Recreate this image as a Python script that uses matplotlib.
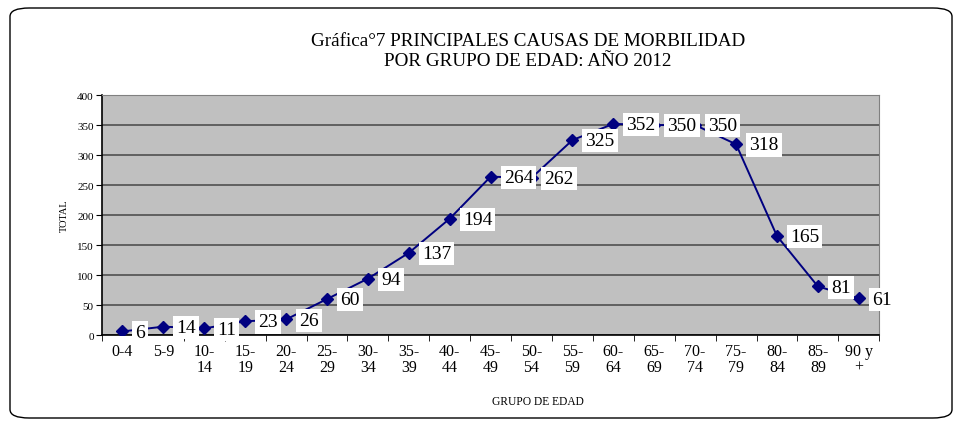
import matplotlib.pyplot as plt
from matplotlib.patches import FancyBboxPatch

# data
grupos = ['0-4', '5-9', '10-\n14', '15-\n19', '20-\n24', '25-\n29', '30-\n34', '35-\n39',
          '40-\n44', '45-\n49', '50-\n54', '55-\n59', '60-\n64', '65-\n69', '70-\n74',
          '75-\n79', '80-\n84', '85-\n89', '90 y\n+']
totales = [6, 14, 11, 23, 26, 60, 94, 137, 194, 264, 262, 325, 352, 350, 350, 318, 165, 81, 61]

plt.rcParams['font.family'] = ['Liberation Serif', 'DejaVu Serif']

fig = plt.figure(figsize=(9.62, 4.27), dpi=100)
ax = fig.add_axes([0.106, 0.213, 0.808, 0.562])

# rounded outer frame
frame = FancyBboxPatch((10 / 962, 8 / 427), 942 / 962, 410 / 427,
                       boxstyle='round,pad=0,rounding_size=0.02',
                       transform=fig.transFigure, fill=False, edgecolor='black', linewidth=1.0)
fig.patches.append(frame)

x = list(range(len(grupos)))
ax.set_facecolor('#C0C0C0')
ax.plot(x, totales, color='#000080', linewidth=1.4, marker='D', markersize=6, zorder=3)

for xi, v in zip(x, totales):
    ax.annotate(str(v), (xi, v), xytext=(9.4, -0.5), textcoords='offset points',
                ha='left', va='center', fontsize=14, zorder=4,
                bbox=dict(boxstyle='square,pad=0.16', facecolor='white', edgecolor='none'))

ax.set_xlim(-0.5, len(grupos) - 0.5)
ax.set_ylim(0, 400)
ax.set_yticks(range(0, 401, 50))
ax.yaxis.grid(True, color='#585858', linewidth=1.3)
ax.set_axisbelow(True)

ax.set_xticks(x)
ax.set_xticklabels(grupos, fontsize=11.5, linespacing=0.95)
ax.set_xticks([i - 0.5 for i in range(len(grupos) + 1)], minor=True)
ax.tick_params(axis='x', which='major', length=0, pad=6)
ax.tick_params(axis='x', which='minor', length=4, direction='out')
ax.tick_params(axis='y', labelsize=8, length=4, direction='out', pad=2)

for side in ['top', 'right']:
    ax.spines[side].set_color('#808080')
ax.spines['left'].set_color('black')
ax.spines['bottom'].set_color('black')
ax.spines['left'].set_linewidth(1.2)
ax.spines['bottom'].set_linewidth(1.2)

fig.text(64 / 962, 1 - 216 / 427, 'TOTAL', fontsize=7.5, rotation=90, ha='center', va='center')
fig.text(538 / 962, 1 - 402 / 427, 'GRUPO DE EDAD', fontsize=8.3, ha='center', va='center')

fig.text(528 / 962, 1 - 42 / 427, 'Gráfica°7 PRINCIPALES CAUSAS DE MORBILIDAD',
         fontsize=13.8, ha='center', va='center')
fig.text(528 / 962, 1 - 62 / 427, 'POR GRUPO DE EDAD: AÑO 2012',
         fontsize=13.8, ha='center', va='center')

fig.savefig('out.png', dpi=100)
